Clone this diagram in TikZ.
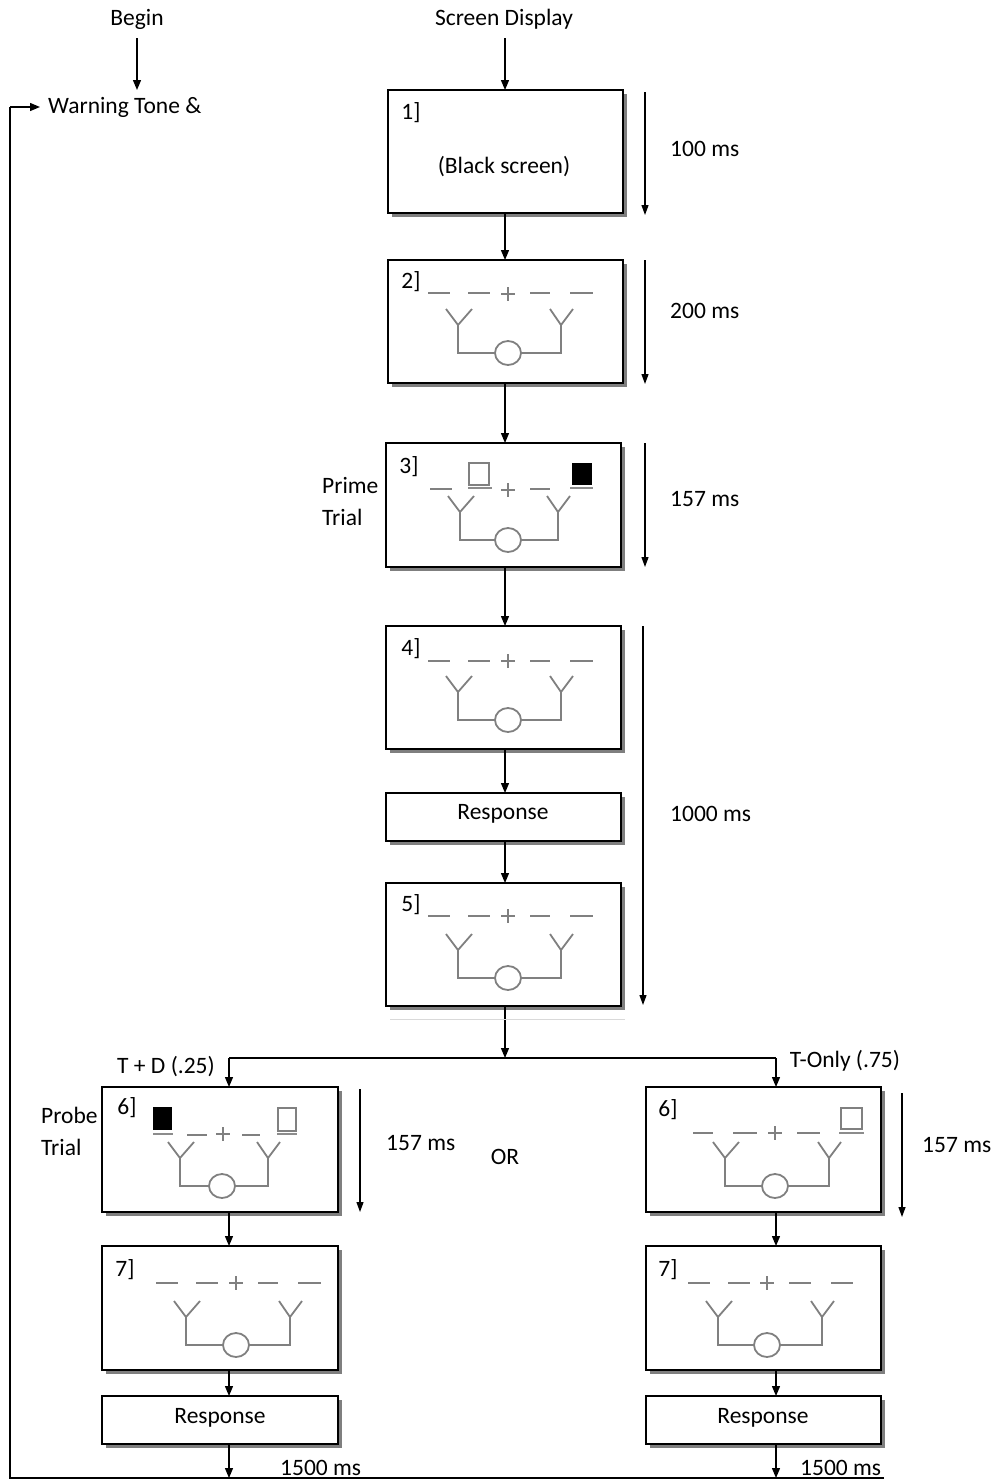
\documentclass[tikz,border=0pt]{standalone}
\usepackage{fontspec}
\setmainfont{Carlito}
\usetikzlibrary{arrows.meta,shadows,calc}
\begin{document}
\begin{tikzpicture}[x=1pt,y=-1pt,
  txt/.style={font=\fontsize{23.5}{32}\selectfont, inner sep=0pt},
  box/.style={draw=black, line width=1.7pt, fill=white, rectangle, inner sep=0pt, outer sep=0pt, anchor=north west,
    drop shadow={shadow xshift=4pt, shadow yshift=-4pt, fill=black, opacity=0.5}},
  conn/.style={line width=1.3pt, -{Triangle[length=10pt,width=8pt]}},
  plain/.style={line width=1.3pt},
  timearr/.style={line width=1.2pt, -{Triangle[length=10pt,width=7pt]}},
  stim/.style={draw=black!50, line width=1.8pt},
  uline/.style={draw=black!45, line width=2.6pt},
  sqr/.style={draw=black!50, line width=1.6pt},
]
\useasboundingbox (0,0) rectangle (1001,1481);

% helper macros
\newcommand\ycirc[4]{%
  \draw[stim] ({#3-12},{#2-44}) -- (#3,{#2-28}) -- ({#3+14},{#2-44});
  \draw[stim] (#3,{#2-28}) -- (#3,#2) -- ({#1-13},#2);
  \draw[stim] ({#4-11},{#2-44}) -- (#4,{#2-28}) -- ({#4+12},{#2-44});
  \draw[stim] (#4,{#2-28}) -- (#4,#2) -- ({#1+13},#2);
  \draw[stim] (#1,#2) ellipse [x radius=13, y radius=12];}
\newcommand\plusmark[2]{%
  \draw[stim] ({#1-7},#2) -- ({#1+7},#2) (#1,{#2-7}) -- (#1,{#2+7});}
\newcommand\dashrow[2]{%
  \foreach \a/\b in {#2} {\draw[stim] (\a,#1) -- (\b,#1);}}

% headers
\node[txt] (begin) at (137,19) {Begin};
\node[txt] (screen) at (504,19) {Screen Display};
\node[txt, anchor=west] (warn) at (48,107) {Warning Tone \&};

% boxes
\node[box, minimum width=235pt, minimum height=123pt] (b1) at (388,90) {};
\node[box, minimum width=235pt, minimum height=123pt] (b2) at (388,260) {};
\node[box, minimum width=235pt, minimum height=124pt] (b3) at (386,443) {};
\node[box, minimum width=235pt, minimum height=123pt] (b4) at (386,626) {};
\node[box, minimum width=235pt, minimum height=48pt] (r1) at (386,793) {};
\node[box, minimum width=235pt, minimum height=123pt] (b5) at (386,883) {};
\node[box, minimum width=236pt, minimum height=125pt] (b6l) at (102,1087) {};
\node[box, minimum width=235pt, minimum height=125pt] (b6r) at (646,1087) {};
\node[box, minimum width=236pt, minimum height=124pt] (b7l) at (102,1246) {};
\node[box, minimum width=235pt, minimum height=124pt] (b7r) at (646,1246) {};
\node[box, minimum width=236pt, minimum height=48pt] (r2) at (102,1396) {};
\node[box, minimum width=235pt, minimum height=48pt] (r3) at (646,1396) {};

\node[txt] (r1t) at (503,814) {Response};
\node[txt] (r2t) at (220,1418) {Response};
\node[txt] (r3t) at (763,1418) {Response};

% box 1
\node[txt] (n1) at (411,113) {1]};
\node[txt] (bs) at (504,167) {(Black screen)};

% box 2
\node[txt] (n2) at (411,282) {2]};
\dashrow{293}{428/450,468/490,530/550,570/593}
\plusmark{508}{294}
\ycirc{508}{353}{458}{561}

% box 3
\node[txt] (n3) at (409,467) {3]};
\dashrow{489}{430/452,530/550}
\draw[sqr] (469,463) rectangle (489,485);
\draw[uline] (468,488) -- (492,488);
\fill[black] (572,463) rectangle (592,485);
\draw[uline] (570,488) -- (593,488);
\plusmark{508}{490}
\ycirc{508}{540}{460}{558}

% box 4
\node[txt] (n4) at (411,649) {4]};
\dashrow{661}{428/450,468/490,530/550,570/593}
\plusmark{508}{661}
\ycirc{508}{720}{458}{561}

% box 5
\node[txt] (n5) at (411,905) {5]};
\dashrow{916}{428/450,468/490,530/550,570/593}
\plusmark{508}{916}
\ycirc{508}{978}{458}{561}

% box 6 left
\node[txt] (n6l) at (127,1108) {6]};
\fill[black] (153,1107) rectangle (172,1130);
\draw[uline] (153,1134) -- (173,1134);
\dashrow{1135}{187/207,242/260}
\plusmark{223}{1134}
\draw[sqr] (278,1108) rectangle (296,1131);
\draw[uline] (277,1134) -- (297,1134);
\ycirc{222}{1186}{180}{268}

% box 6 right
\node[txt] (n6r) at (668,1110) {6]};
\dashrow{1133}{693/713,733/757,797/820}
\plusmark{775}{1133}
\draw[sqr] (841,1108) rectangle (862,1129);
\draw[uline] (839,1133) -- (864,1133);
\ycirc{775}{1186}{725}{829}

% box 7 left
\node[txt] (n7l) at (125,1270) {7]};
\dashrow{1283}{156/178,196/218,258/278,298/321}
\plusmark{236}{1283}
\ycirc{236}{1345}{186}{290}

% box 7 right
\node[txt] (n7r) at (668,1270) {7]};
\dashrow{1283}{688/710,728/750,789/811,831/853}
\plusmark{767}{1283}
\ycirc{767}{1345}{718}{822}

% side labels
\node[txt, anchor=west, align=left] (prime) at (322,501) {Prime\\Trial};
\node[txt, anchor=west, align=left] (probe) at (41,1131) {Probe\\Trial};
\node[txt, anchor=west] (t1) at (670,149) {100 ms};
\node[txt, anchor=west] (t2) at (670,311) {200 ms};
\node[txt, anchor=west] (t3) at (670,499) {157 ms};
\node[txt, anchor=west] (t4) at (670,814) {1000 ms};
\node[txt, anchor=west] (t5) at (386,1143) {157 ms};
\node[txt, anchor=west] (t6) at (922,1145) {157 ms};
\node[txt] (or) at (505,1157) {OR};
\node[txt, anchor=west] (t7) at (280,1468) {1500 ms};
\node[txt, anchor=west] (t8) at (800,1468) {1500 ms};
\node[txt] (td) at (166,1067) {T + D (.25)};
\node[txt] (to) at (845,1061) {T-Only (.75)};

% coordinates
\coordinate (colM) at (505,0);
\coordinate (colB) at (137,0);
\coordinate (colL) at (229,1058);
\coordinate (colR) at (776,1058);
\coordinate (split) at (505,1058);
\coordinate (bl) at (10,1478);
\coordinate (br) at (884,1478);
\coordinate (loopTop) at (10,107);
\coordinate (topArr) at (0,38);
\coordinate (warnTop) at (0,90);

% main column connectors
\draw[conn] (colB |- topArr) -- (colB |- warnTop);
\draw[conn] (colM |- topArr) -- (colM |- b1.north);
\draw[conn] (colM |- b1.south) -- (colM |- b2.north);
\draw[conn] (colM |- b2.south) -- (colM |- b3.north);
\draw[conn] (colM |- b3.south) -- (colM |- b4.north);
\draw[conn] (colM |- b4.south) -- (colM |- r1.north);
\draw[conn] (colM |- r1.south) -- (colM |- b5.north);
\draw[conn] (colM |- b5.south) -- (split);
\draw[draw=black!15, line width=1pt] (390,1019) -- (625,1019);
\draw[plain] (colL) -- (colR);
\draw[conn] (colL) -- (colL |- b6l.north);
\draw[conn] (colR) -- (colR |- b6r.north);
\draw[conn] (colL |- b6l.south) -- (colL |- b7l.north);
\draw[conn] (colR |- b6r.south) -- (colR |- b7r.north);
\draw[conn] (colL |- b7l.south) -- (colL |- r2.north);
\draw[conn] (colR |- b7r.south) -- (colR |- r3.north);
\draw[conn] (colL |- r2.south) -- (colL |- bl);
\draw[conn] (colR |- r3.south) -- (colR |- bl);

% loop back
\draw[plain] (br) -- (bl) -- (loopTop);
\draw[conn] (loopTop) -- ([xshift=-8pt]warn.west);

% timing arrows
\draw[timearr] (645,92) -- (645,215);
\draw[timearr] (645,260) -- (645,384);
\draw[timearr] (645,443) -- (645,567);
\draw[timearr] (643,626) -- (643,1005);
\draw[timearr] (360,1089) -- (360,1212);
\draw[timearr] (902,1093) -- (902,1217);
\end{tikzpicture}
\end{document}
